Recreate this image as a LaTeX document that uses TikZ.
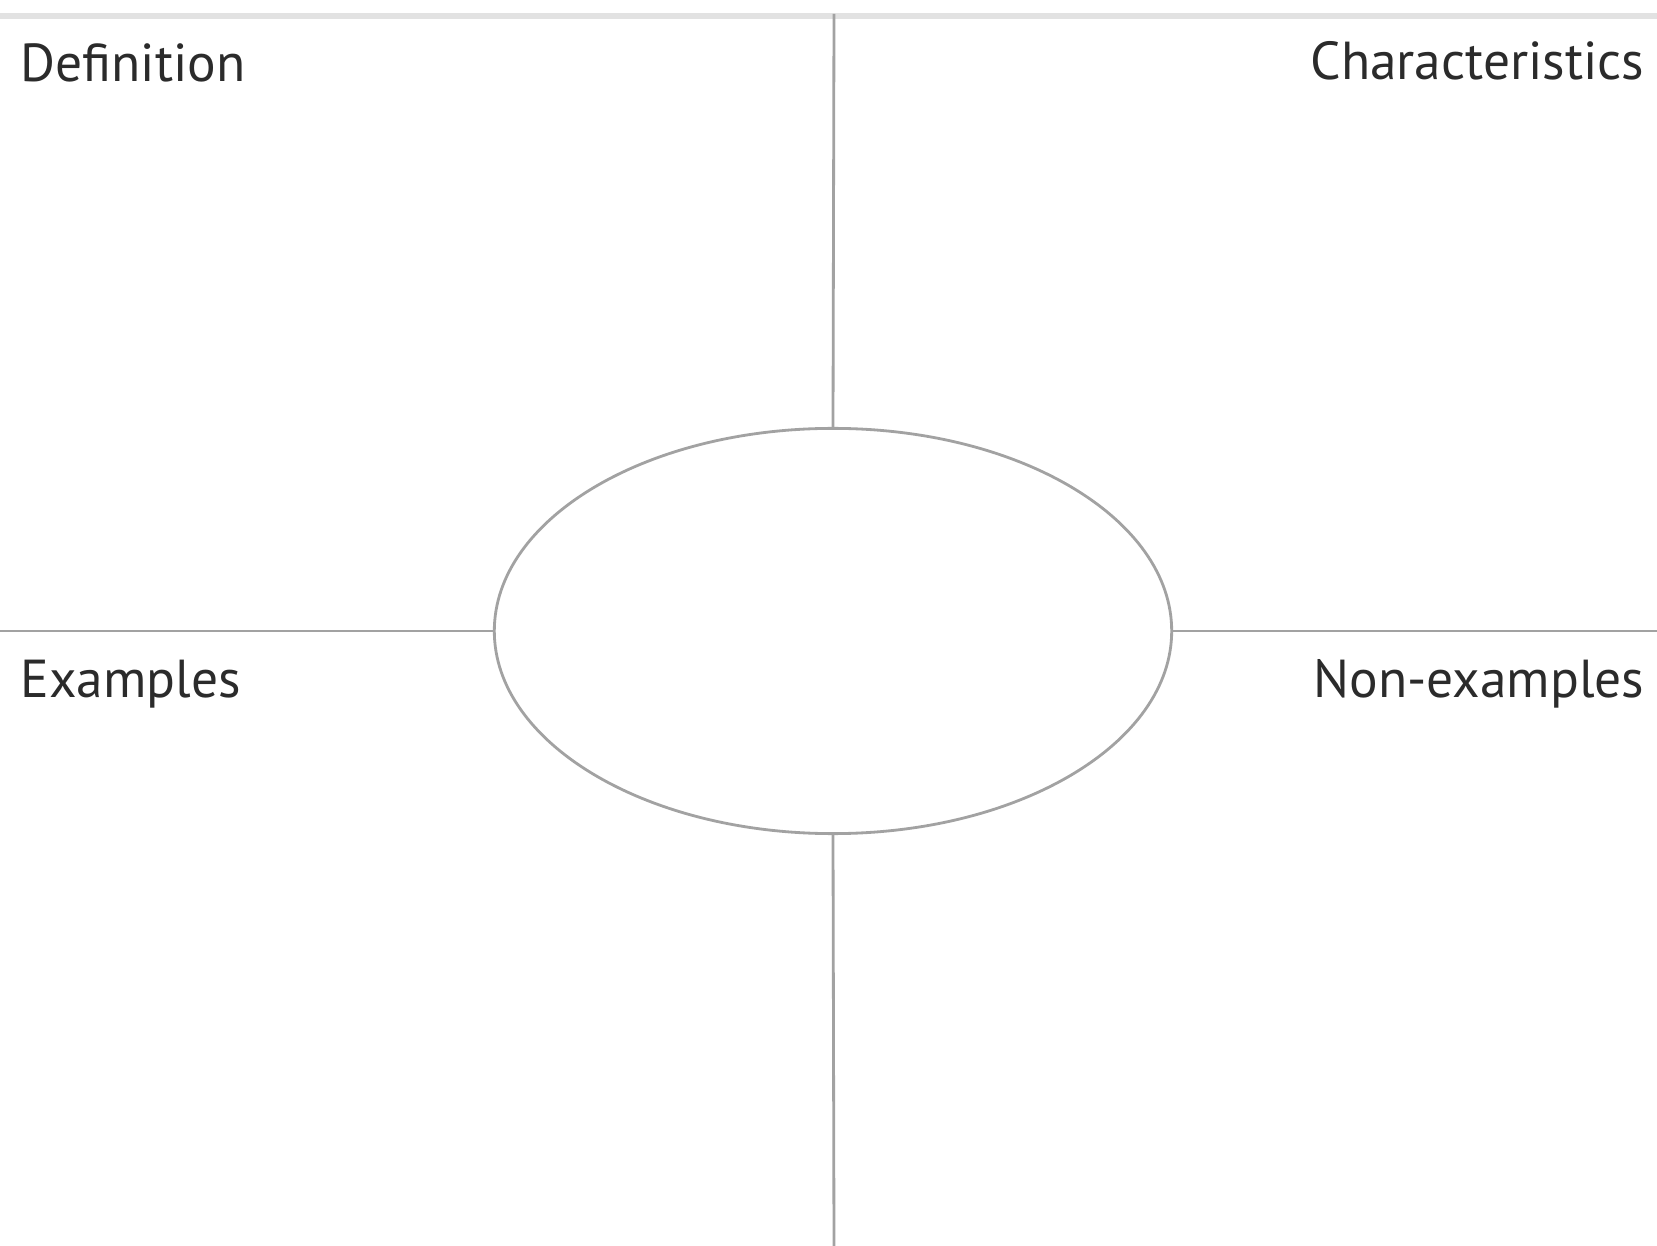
\documentclass[tikz,border=0pt]{standalone}
\usepackage{fontspec}
\setmainfont{PT Sans}
\usetikzlibrary{shapes.geometric}
\definecolor{rulegray}{HTML}{A2A2A2}
\definecolor{bandgray}{HTML}{E2E2E2}
\definecolor{inkgray}{HTML}{2B2B2B}
\begin{document}
\begin{tikzpicture}[x=0.01cm,y=-0.01cm,quarter/.style={font=\fontsize{15.2}{18}\selectfont,text=inkgray,inner sep=0pt},divider/.style={draw=rulegray,line width=0.8pt},core/.style={draw=rulegray,line width=0.8pt,ellipse,minimum width=6.77cm,minimum height=4.05cm,inner sep=0pt}]
\useasboundingbox (0,0) rectangle (1657,1246);
\fill[bandgray] (0,13) rectangle (1657,19);
\node[core] (centre) at (833,631) {};
\coordinate (topEnd) at (834,14);
\coordinate (bottomEnd) at (834,1246);
\coordinate (leftEnd) at (0,631);
\coordinate (rightEnd) at (1657,631);
\draw[divider] (centre.north) -- (topEnd);
\draw[divider] (centre.south) -- (bottomEnd);
\draw[divider] (centre.west) -- (leftEnd);
\draw[divider] (centre.east) -- (rightEnd);
\node[quarter,anchor=base west] (qDef) at (20,82) {Definition};
\node[quarter,anchor=base east] (qChar) at (1645,80) {Characteristics};
\node[quarter,anchor=base west] (qEx) at (20,698) {Examples};
\node[quarter,anchor=base east] (qNon) at (1645,698) {Non-examples};
\end{tikzpicture}
\end{document}
